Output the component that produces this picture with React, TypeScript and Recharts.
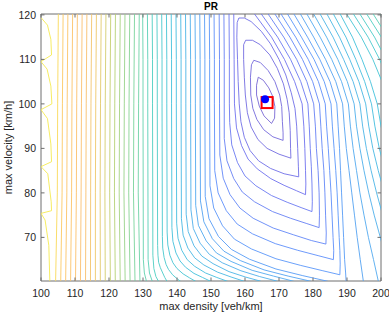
import React from "react";
import { ComposedChart, Line, XAxis, YAxis, ReferenceDot, ReferenceArea, Label } from "recharts";

type P = [number, number];

const xTicks = [100, 110, 120, 130, 140, 150, 160, 170, 180, 190, 200];
const yTicks = [70, 80, 90, 100, 110, 120];
const xDomain: [number, number] = [100, 200];
const yDomain: [number, number] = [60.2, 120.2];

const ringA: P[] = [[163.9,106.0],[163.4,104.2],[163.4,102.0],[164.2,99.5],[165.6,97.3],[167.8,95.6],[168.7,96.8],[168.8,99.4],[168.2,101.6],[167.0,103.6],[165.4,105.3],[163.9,106.0]];
const ringB: P[] = [[162.6,109.8],[161.9,108.8],[161.6,106.0],[161.7,102.0],[162.3,99.0],[163.5,96.5],[165.5,94.2],[168.2,92.6],[171.2,91.8],[171.2,93.5],[171.0,96.0],[170.8,99.4],[170.2,102.0],[168.8,105.0],[166.8,107.5],[164.5,109.3],[162.6,109.8]];
const ringC: P[] = [[160.2,114.3],[159.6,113.3],[159.6,110.0],[159.8,106.0],[160.1,102.0],[160.7,98.0],[161.8,94.8],[163.8,92.0],[166.5,90.0],[170.0,88.7],[173.5,87.8],[173.4,90.0],[173.3,94.0],[173.0,98.0],[172.4,101.0],[171.3,104.5],[169.5,108.0],[167.3,111.0],[164.5,113.3],[162.2,114.3],[160.2,114.3]];
const ringD: P[] = [[158.2,119.3],[157.7,118.3],[157.6,115.0],[157.8,110.0],[158.0,105.0],[158.3,100.0],[158.8,96.0],[159.8,92.5],[161.5,89.5],[164.0,87.2],[167.5,85.5],[171.5,84.3],[175.8,83.6],[175.7,86.0],[175.5,90.0],[175.2,95.0],[174.7,99.0],[173.6,102.5],[172.0,106.5],[170.0,110.0],[167.5,113.5],[164.8,116.3],[161.8,118.5],[159.8,119.3],[158.2,119.3]];
const lvlE: P[] = [[156.7,120.2],[156.8,110.0],[156.9,100.0],[157.5,94.6],[159.0,90.6],[160.9,87.6],[163.6,85.4],[167.6,83.2],[171.5,81.7],[175.1,80.5],[177.8,79.6],[177.9,82.0],[177.8,85.0],[177.6,90.0],[177.3,95.0],[176.8,100.0],[174.6,105.0],[171.6,110.0],[167.8,115.0],[162.8,120.2]];
const lvlF: P[] = [[155.3,120.2],[155.4,110.0],[155.4,100.0],[155.5,95.8],[156.1,90.8],[157.8,86.8],[160.0,83.8],[163.2,81.6],[167.8,79.4],[172.4,77.9],[176.5,76.7],[179.7,75.8],[179.8,78.0],[179.7,82.0],[179.5,86.0],[179.2,90.0],[178.9,95.0],[178.5,100.0],[176.4,105.0],[173.4,110.0],[169.6,115.0],[164.8,120.2]];
const lvlG: P[] = [[153.8,120.2],[153.9,110.0],[153.9,100.0],[153.9,92.2],[154.7,87.2],[156.7,83.2],[159.2,80.2],[162.8,78.0],[168.1,75.8],[173.4,74.3],[178.2,73.1],[181.8,72.2],[181.9,75.0],[181.8,80.0],[181.5,85.0],[181.0,90.0],[180.7,95.0],[180.2,100.0],[178.2,105.0],[175.2,110.0],[171.4,115.0],[166.8,120.2]];
const lvlH: P[] = [[152.4,120.2],[152.5,110.0],[152.5,100.0],[152.6,88.5],[153.6,83.3],[155.6,79.6],[158.5,76.6],[162.4,74.3],[168.3,72.1],[174.2,70.6],[179.5,69.3],[183.8,68.5],[183.9,71.0],[183.7,75.0],[183.5,80.0],[183.2,85.0],[182.7,90.0],[182.3,95.0],[181.9,100.0],[179.9,105.0],[176.9,110.0],[173.2,115.0],[168.8,120.2]];
const lvlI: P[] = [[150.9,120.2],[151.0,110.0],[151.0,100.0],[151.1,85.0],[152.1,80.0],[154.5,76.0],[157.7,73.0],[162.2,70.8],[168.9,68.6],[175.5,67.1],[181.5,65.9],[186.0,65.0],[186.1,67.0],[185.9,70.0],[185.6,75.0],[185.3,80.0],[184.9,85.0],[184.5,90.0],[184.0,95.0],[183.6,100.0],[181.6,105.0],[178.6,110.0],[174.9,115.0],[170.6,120.2]];
const lvlJ: P[] = [[149.5,120.2],[149.6,110.0],[149.6,100.0],[149.7,81.6],[150.8,76.6],[153.4,72.6],[156.9,69.6],[161.9,67.4],[169.1,65.2],[176.4,63.7],[182.9,62.5],[187.9,61.6],[188.0,64.0],[187.9,67.0],[187.7,70.0],[187.4,75.0],[187.1,80.0],[186.7,85.0],[186.2,90.0],[185.7,95.0],[185.3,100.0],[183.3,105.0],[180.3,110.0],[176.6,115.0],[172.5,120.2]];
const lvlK: P[] = [[148.1,120.2],[148.2,110.0],[148.2,100.0],[148.3,79.2],[149.4,74.2],[152.2,70.2],[156.0,67.3],[161.3,65.1],[169.1,62.9],[177.0,61.4],[184.0,60.2],[187.0,59.6],[189.8,59.2],[189.6,62.0],[189.3,65.0],[189.0,70.0],[188.7,75.0],[188.4,80.0],[188.1,85.0],[187.8,90.0],[187.4,95.0],[187.0,100.0],[185.0,105.0],[182.0,110.0],[178.4,115.0],[174.4,120.2]];
const lvlL: P[] = [[146.7,120.2],[146.8,110.0],[146.8,100.0],[146.9,78.2],[147.9,73.5],[150.4,69.7],[153.8,66.9],[158.6,64.8],[165.6,62.7],[172.7,61.3],[179.0,60.2],[185.0,59.0],[190.0,57.0],[195.5,55.0],[194.8,60.2],[193.9,65.0],[193.0,70.0],[192.2,75.0],[191.4,80.0],[190.6,85.0],[189.8,90.0],[189.2,95.0],[188.7,100.0],[186.7,105.0],[183.7,110.0],[180.2,115.0],[176.3,120.2]];
const lvlM: P[] = [[145.3,120.2],[145.4,110.0],[145.4,100.0],[145.5,77.2],[146.3,72.7],[148.6,69.2],[151.6,66.5],[155.9,64.6],[162.1,62.6],[168.4,61.3],[174.0,60.2],[180.0,59.0],[190.0,53.0],[200.0,53.0],[199.2,60.2],[197.8,65.0],[196.3,70.0],[195.0,75.0],[193.8,80.0],[192.8,85.0],[191.8,90.0],[191.0,95.0],[190.4,100.0],[188.4,105.0],[185.5,110.0],[182.1,115.0],[178.2,120.2]];
const lvlN: P[] = [[143.9,120.2],[144.0,110.0],[144.0,100.0],[144.1,76.2],[144.8,72.0],[146.8,68.7],[149.5,66.2],[153.3,64.3],[158.8,62.5],[164.3,61.2],[169.3,60.2],[175.0,58.5],[190.0,52.0],[203.0,52.0],[201.5,65.0],[199.8,70.0],[198.0,75.0],[196.4,80.0],[195.0,85.0],[193.8,90.0],[192.8,95.0],[192.1,100.0],[190.1,105.0],[187.3,110.0],[184.0,115.0],[180.2,120.2]];
const lvlO: P[] = [[142.5,120.2],[142.6,110.0],[142.6,100.0],[142.7,75.2],[143.3,71.3],[145.0,68.1],[147.3,65.8],[150.6,64.1],[155.3,62.3],[160.1,61.1],[164.4,60.2],[170.0,58.5],[205.0,54.0],[200.5,75.0],[198.7,80.0],[197.1,85.0],[195.7,90.0],[194.6,95.0],[193.8,100.0],[191.8,105.0],[189.0,110.0],[185.9,115.0],[182.1,120.2]];
const lvlP: P[] = [[141.1,120.2],[141.2,110.0],[141.2,100.0],[141.3,74.2],[141.8,70.5],[143.2,67.6],[145.2,65.4],[147.9,63.8],[151.9,62.2],[155.9,61.1],[159.5,60.2],[165.0,58.5],[205.0,55.0],[201.0,80.0],[199.2,85.0],[197.6,90.0],[196.4,95.0],[195.5,100.0],[193.5,105.0],[190.8,110.0],[187.8,115.0],[184.1,120.2]];
const lvlQ: P[] = [[139.7,120.2],[139.8,110.0],[139.8,100.0],[139.9,73.2],[140.3,69.8],[141.4,67.1],[143.0,65.0],[145.2,63.5],[148.4,62.0],[151.7,61.0],[154.6,60.2],[160.0,58.5],[205.0,57.0],[201.2,85.0],[199.5,90.0],[198.2,95.0],[197.2,100.0],[195.2,105.0],[192.6,110.0],[189.7,115.0],[186.0,120.2]];
const lvlR: P[] = [[138.3,120.2],[138.4,110.0],[138.4,100.0],[138.5,72.2],[138.8,69.1],[139.7,66.5],[140.9,64.7],[142.5,63.3],[145.0,61.9],[147.5,61.0],[149.7,60.2],[153.0,59.0],[205.0,56.0],[201.5,90.0],[200.0,95.0],[198.9,100.0],[196.9,105.0],[194.4,110.0],[191.6,115.0],[188.0,120.2]];
const lvlS: P[] = [[136.9,120.2],[137.0,110.0],[137.0,100.0],[137.1,71.2],[137.3,68.3],[137.9,66.0],[138.8,64.3],[140.0,63.0],[141.8,61.8],[143.7,60.9],[145.3,60.2],[148.0,59.0],[206.0,50.0],[206.0,100.0],[202.5,100.0],[200.3,105.0],[197.6,110.0],[194.2,115.0],[189.9,120.2]];
const lvlT: P[] = [[135.5,120.2],[135.6,110.0],[135.6,100.0],[135.7,70.2],[135.8,67.6],[136.2,65.5],[136.8,63.9],[137.5,62.8],[138.7,61.6],[139.9,60.8],[140.9,60.2],[143.0,59.0],[206.0,50.0],[206.0,105.0],[202.3,105.0],[199.6,110.0],[196.2,115.0],[191.9,120.2]];
const lvlU: P[] = [[134.1,120.2],[134.2,110.0],[134.2,100.0],[134.3,68.2],[134.4,66.0],[134.6,64.4],[135.1,63.2],[135.8,62.0],[136.4,61.0],[137.0,60.2],[138.0,59.5],[206.0,50.0],[206.0,110.0],[201.5,110.0],[198.1,115.0],[193.8,120.2]];
const lvlV: P[] = [[132.7,120.2],[132.8,110.0],[132.8,100.0],[132.9,66.0],[133.2,63.0],[133.8,61.2],[134.5,60.2],[135.0,59.0],[206.0,50.0],[206.0,112.0],[202.0,112.0],[200.1,115.0],[195.8,120.2]];
const lvlW: P[] = [[131.3,120.2],[131.4,110.0],[131.4,100.0],[131.5,65.0],[131.9,62.0],[132.7,60.2],[133.0,59.0],[206.0,50.0],[206.0,115.0],[202.0,115.0],[197.7,120.2]];
const lvlX: P[] = [[129.9,120.2],[130.0,110.0],[130.0,100.0],[130.1,65.0],[130.4,62.0],[131.0,60.2],[131.3,59.0],[206.0,50.0],[206.0,115.0],[204.0,115.0],[199.7,120.2]];
const out24: P[] = [[128.9,120.2],[128.7,100.0],[128.6,80.0],[129.1,60.2]];
const out25: P[] = [[127.5,120.2],[127.3,100.0],[127.2,80.0],[127.65,60.2]];
const out26: P[] = [[126.1,120.2],[125.9,100.0],[125.8,80.0],[126.2,60.2]];
const out27: P[] = [[124.7,120.2],[124.5,100.0],[124.4,80.0],[124.75,60.2]];
const out28: P[] = [[123.3,120.2],[123.1,100.0],[123.0,80.0],[123.3,60.2]];
const out29: P[] = [[121.9,120.2],[121.7,100.0],[121.6,80.0],[121.85,60.2]];
const out30: P[] = [[120.5,120.2],[120.3,100.0],[120.2,80.0],[120.4,60.2]];
const out31: P[] = [[119.1,120.2],[118.9,100.0],[118.8,80.0],[118.9,60.2]];
const out32: P[] = [[117.7,120.2],[117.5,100.0],[117.4,80.0],[117.45,60.2]];
const out33: P[] = [[116.3,120.2],[116.1,100.0],[116.0,80.0],[116.0,60.2]];
const out34: P[] = [[114.9,120.2],[114.7,100.0],[114.6,80.0],[114.55,60.2]];
const out35: P[] = [[113.5,120.2],[113.3,100.0],[113.2,80.0],[113.1,60.2]];
const out36: P[] = [[112.1,120.2],[111.9,100.0],[111.8,80.0],[111.6,60.2]];
const out37: P[] = [[110.7,120.2],[110.5,100.0],[110.4,80.0],[110.15,60.2]];
const out38: P[] = [[109.3,120.2],[109.1,100.0],[109.0,80.0],[108.7,60.2]];
const out39: P[] = [[107.9,120.2],[107.7,100.0],[107.6,80.0],[107.25,60.2]];
const out40: P[] = [[106.5,120.2],[106.3,100.0],[106.2,80.0],[105.8,60.2]];
const out41: P[] = [[105.1,120.2],[104.9,100.0],[104.8,80.0],[104.3,60.2]];
const edgeWiggle: P[] = [[100.0,119.4],[101.9,117.7],[102.9,114.5],[103.1,111.0],[100.0,109.5],[101.8,107.8],[102.9,104.0],[103.2,100.0],[100.0,98.7],[101.9,96.7],[102.9,91.0],[103.1,87.0],[100.0,85.9],[102.0,84.3],[103.0,78.0],[103.1,76.0],[100.0,75.4],[101.2,73.9],[102.3,68.2],[102.6,60.2]];

// innermost (lowest level) to outermost (highest level)
const contours: P[][] = [
  ringA, ringB, ringC, ringD, lvlE, lvlF, lvlG, lvlH, lvlI, lvlJ, lvlK, lvlL, lvlM, lvlN,
  lvlO, lvlP, lvlQ, lvlR, lvlS, lvlT, lvlU, lvlV, lvlW, lvlX,
  out24, out25, out26, out27, out28, out29, out30, out31, out32, out33, out34, out35,
  out36, out37, out38, out39, out40, out41, edgeWiggle,
];

const optimum = { x: 165.9, y: 101.05 };
const estimate = { x: 166.5, y: 100.3 };

const PAL_T = [0, 0.1, 0.2, 0.3, 0.4, 0.5, 0.6, 0.7, 0.78, 0.85, 0.95, 1];
const PAL_C: [number, number, number][] = [
  [80, 60, 200], [70, 75, 235], [45, 115, 250], [30, 150, 232], [12, 175, 210], [25, 192, 175],
  [85, 200, 125], [170, 196, 75], [232, 184, 62], [250, 172, 70], [252, 182, 55], [242, 228, 30],
];
function colorAt(t: number): string {
  const tt = Math.max(0, Math.min(1, t));
  let i = 0;
  while (i < PAL_T.length - 2 && tt > PAL_T[i + 1]) i++;
  const f = (tt - PAL_T[i]) / (PAL_T[i + 1] - PAL_T[i]);
  const c = PAL_C[i].map((v, k) => v + (PAL_C[i + 1][k] - v) * f);
  const m = c.map((v) => Math.round(v * 0.78 + 255 * 0.22));
  return `rgb(${m[0]},${m[1]},${m[2]})`;
}

const FONT = "'Liberation Sans', Arial, Helvetica, sans-serif";
const AXIS = "#6e6e6e";
const TEXT = "#262626";
const PLOT = { left: 41, right: 381, top: 14, bottom: 281 };
const TL = 3.5;

function XTick(props: any) {
  const { x, payload } = props;
  return (
    <g>
      <line x1={x} x2={x} y1={PLOT.bottom} y2={PLOT.bottom - TL} stroke={AXIS} />
      <line x1={x} x2={x} y1={PLOT.top} y2={PLOT.top + TL} stroke={AXIS} />
      <text x={x} y={PLOT.bottom + 16} textAnchor="middle" fontSize={10.5} fill={TEXT} fontFamily={FONT}>
        {payload.value}
      </text>
    </g>
  );
}

function YTick(props: any) {
  const { y, payload } = props;
  return (
    <g>
      <line x1={PLOT.left} x2={PLOT.left + TL} y1={y} y2={y} stroke={AXIS} />
      <line x1={PLOT.right} x2={PLOT.right - TL} y1={y} y2={y} stroke={AXIS} />
      <text x={PLOT.left - 5} y={y + 3.7} textAnchor="end" fontSize={10.5} fill={TEXT} fontFamily={FONT}>
        {payload.value}
      </text>
    </g>
  );
}

function XLabel(props: any) {
  const vb = props.viewBox || { x: 41, y: 281, width: 340, height: 34 };
  return (
    <text x={vb.x + vb.width / 2} y={vb.y + 29} textAnchor="middle" fontSize={11} fill={TEXT} fontFamily={FONT}>
      max density [veh/km]
    </text>
  );
}

function YLabel(props: any) {
  const vb = props.viewBox || { x: 0, y: 14, width: 41, height: 267 };
  const cx = vb.x + 12;
  const cy = vb.y + vb.height / 2;
  return (
    <text x={cx} y={cy} transform={`rotate(-90 ${cx} ${cy})`} textAnchor="middle" fontSize={11} fill={TEXT} fontFamily={FONT}>
      max velocity [km/h]
    </text>
  );
}

function SquareMarker(props: any) {
  const { cx, cy } = props;
  return <rect x={cx - 5.5} y={cy - 5.5} width={11} height={11} fill="none" stroke="#ff0000" strokeWidth={2} />;
}

export default function App() {
  return (
    <div style={{ position: "absolute", left: 0, top: 0, width: 389, height: 315, background: "#fff" }}>
      <ComposedChart width={389} height={315} margin={{ top: 14, right: 8, bottom: 0, left: 0 }}>
        <XAxis
          dataKey="x"
          type="number"
          domain={xDomain}
          ticks={xTicks}
          interval={0}
          allowDataOverflow
          axisLine={false}
          tickLine={false}
          tickSize={0}
          height={34}
          tick={<XTick />}
        >
          <Label content={<XLabel />} />
        </XAxis>
        <YAxis
          type="number"
          domain={yDomain}
          ticks={yTicks}
          interval={0}
          allowDataOverflow
          axisLine={false}
          tickLine={false}
          tickSize={0}
          width={41}
          tick={<YTick />}
        >
          <Label content={<YLabel />} />
        </YAxis>
        {contours.map((pts, i) => (
          <Line
            key={i}
            data={pts.map(([x, y]) => ({ x, y }))}
            dataKey="y"
            type="linear"
            stroke={colorAt(i / (contours.length - 1))}
            strokeWidth={0.9}
            dot={false}
            activeDot={false}
            isAnimationActive={false}
            legendType="none"
          />
        ))}
        <ReferenceArea
          x1={xDomain[0]}
          x2={xDomain[1]}
          y1={yDomain[0]}
          y2={yDomain[1]}
          fill="none"
          stroke={AXIS}
          strokeWidth={1}
          label={{ value: "PR", position: "top", offset: 4, fontSize: 10, fontWeight: "bold", fill: "#000", fontFamily: FONT }}
        />
        <ReferenceDot x={estimate.x} y={estimate.y} r={6} shape={<SquareMarker />} />
        <ReferenceDot x={optimum.x} y={optimum.y} r={4} fill="#0000ff" stroke="none" />
      </ComposedChart>
    </div>
  );
}
